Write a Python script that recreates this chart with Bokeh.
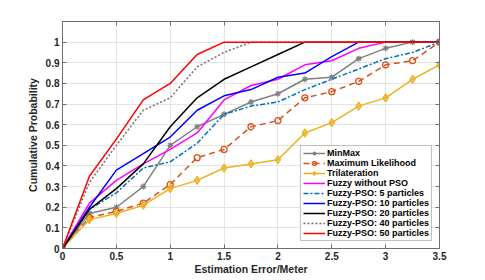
from bokeh.plotting import figure
from bokeh.models import (Range1d, FixedTicker, LinearAxis, Legend, LegendItem)
from bokeh.embed import file_html
from bokeh.resources import INLINE

# ---- data ----
err = [0, 0.25, 0.5, 0.75, 1.0, 1.25, 1.5, 1.75, 2.0, 2.25, 2.5, 2.75, 3.0, 3.25, 3.5]
minmax = [0, 0.17, 0.20, 0.30, 0.50, 0.59, 0.65, 0.71, 0.75, 0.82, 0.83, 0.92, 0.97, 1.0, 1.0]
max_likelihood = [0, 0.15, 0.18, 0.22, 0.31, 0.44, 0.48, 0.59, 0.62, 0.73, 0.76, 0.81, 0.89, 0.91, 1.0]
trilateration = [0, 0.14, 0.17, 0.21, 0.29, 0.33, 0.39, 0.41, 0.43, 0.56, 0.61, 0.69, 0.73, 0.82, 0.89]
fuzzy_no_pso = [0, 0.22, 0.33, 0.41, 0.48, 0.56, 0.72, 0.79, 0.82, 0.89, 0.91, 0.97, 1.0, 1.0, 1.0]
pso_5 = [0, 0.19, 0.27, 0.39, 0.42, 0.51, 0.65, 0.69, 0.71, 0.77, 0.82, 0.87, 0.92, 0.95, 1.0]
pso_10 = [0, 0.20, 0.38, 0.46, 0.54, 0.67, 0.74, 0.77, 0.83, 0.85, 0.93, 1.0, 1.0, 1.0, 1.0]
pso_20 = [0, 0.19, 0.29, 0.41, 0.59, 0.73, 0.82, 0.88, 0.94, 1.0, 1.0, 1.0, 1.0, 1.0, 1.0]
pso_40 = [0, 0.32, 0.50, 0.67, 0.73, 0.88, 0.95, 1.0, 1.0, 1.0, 1.0, 1.0, 1.0, 1.0, 1.0]
pso_50 = [0, 0.35, 0.53, 0.72, 0.80, 0.94, 1.0, 1.0, 1.0, 1.0, 1.0, 1.0, 1.0, 1.0, 1.0]

x_ticks = [0, 0.5, 1, 1.5, 2, 2.5, 3, 3.5]
x_tick_labels = ["0", "0.5", "1", "1.5", "2", "2.5", "3", "3.5"]
y_ticks = [0, 0.1, 0.2, 0.3, 0.4, 0.5, 0.6, 0.7, 0.8, 0.9, 1.0]
y_tick_labels = ["0", "0.1", "0.2", "0.3", "0.4", "0.5", "0.6", "0.7", "0.8", "0.9", "1"]

FONT = "Liberation Sans"
AX_COL = "#6f6f6f"
TXT_COL = "#262626"

p = figure(width=485, height=280, x_range=Range1d(0, 3.5), y_range=Range1d(0, 1.1),
           output_backend="svg", toolbar_location=None,
           min_border_left=62, min_border_right=46, min_border_top=21, min_border_bottom=32)
p.background_fill_color = "white"
p.outline_line_color = AX_COL

def style_axis(ax, ticks, labels, show_labels=True):
    ax.ticker = FixedTicker(ticks=ticks)
    ax.major_label_overrides = {t: l for t, l in zip(ticks, labels)}
    ax.axis_line_color = AX_COL
    ax.major_tick_line_color = AX_COL
    ax.major_tick_in = 4
    ax.major_tick_out = 0
    ax.minor_tick_line_color = None
    ax.major_label_text_font = FONT
    ax.major_label_text_font_style = "bold"
    ax.major_label_text_font_size = "10px" if show_labels else "0px"
    ax.major_label_text_color = TXT_COL
    ax.major_label_standoff = 3 if show_labels else 0

style_axis(p.xaxis[0], x_ticks, x_tick_labels)
style_axis(p.yaxis[0], y_ticks, y_tick_labels)
for ax in (p.xaxis[0], p.yaxis[0]):
    ax.axis_label_text_font = FONT
    ax.axis_label_text_font_style = "bold"
    ax.axis_label_text_font_size = "10.5px"
    ax.axis_label_text_color = TXT_COL
    ax.axis_label_standoff = 0
p.xaxis[0].axis_label = "Estimation Error/Meter"
p.yaxis[0].axis_label = "Cumulative Probability"
p.yaxis[0].axis_label_standoff = 4

top_ax = LinearAxis()
style_axis(top_ax, x_ticks, ["" for _ in x_ticks], show_labels=False)
p.add_layout(top_ax, "above")
right_ax = LinearAxis()
style_axis(right_ax, y_ticks, ["" for _ in y_ticks], show_labels=False)
p.add_layout(right_ax, "right")

for g in (p.xgrid[0], p.ygrid[0]):
    g.grid_line_color = "#e4e4e4"
p.xgrid[0].ticker = FixedTicker(ticks=x_ticks)
p.ygrid[0].ticker = FixedTicker(ticks=y_ticks)

items = []
lw = 1.5

r = p.line(err, minmax, line_color="#808080", line_width=lw)
m = p.scatter(err, minmax, marker="asterisk", size=6, line_color="#808080", line_width=1.2)
items.append(LegendItem(label="MinMax", renderers=[r, m]))

r = p.line(err, max_likelihood, line_color="#D95319", line_width=lw, line_dash="6 4")
m = p.scatter(err, max_likelihood, marker="circle", size=6, line_color="#D95319",
              fill_color=None, line_width=1.3)
items.append(LegendItem(label="Maximum Likelihood", renderers=[r, m]))

r = p.line(err, trilateration, line_color="#EDB120", line_width=lw)
m = p.scatter(err, trilateration, marker="diamond", size=8, line_color="#EDB120",
              fill_color="#EDB120", fill_alpha=0.6, line_width=1.2)
items.append(LegendItem(label="Trilateration", renderers=[r, m]))

r = p.line(err, fuzzy_no_pso, line_color="#FF00FF", line_width=lw)
items.append(LegendItem(label="Fuzzy without PSO", renderers=[r]))

r = p.line(err, pso_5, line_color="#0072BD", line_width=lw, line_dash="5 2 2 2")
items.append(LegendItem(label="Fuzzy-PSO: 5 particles", renderers=[r]))

r = p.line(err, pso_10, line_color="#0000FF", line_width=lw)
items.append(LegendItem(label="Fuzzy-PSO: 10 particles", renderers=[r]))

r = p.line(err, pso_20, line_color="#000000", line_width=lw)
items.append(LegendItem(label="Fuzzy-PSO: 20 particles", renderers=[r]))

r = p.line(err, pso_40, line_color="#707070", line_width=lw, line_dash="2 2")
items.append(LegendItem(label="Fuzzy-PSO: 40 particles", renderers=[r]))

r = p.line(err, pso_50, line_color="#FF0000", line_width=lw)
items.append(LegendItem(label="Fuzzy-PSO: 50 particles", renderers=[r]))

legend = Legend(items=items, location="bottom_right")
legend.label_text_font = FONT
legend.label_text_font_style = "bold"
legend.label_text_font_size = "9px"
legend.label_text_color = "#000000"
legend.label_height = 10
legend.glyph_height = 10
legend.glyph_width = 22
legend.label_standoff = 2
legend.spacing = 0
legend.padding = 2
legend.margin = 7
legend.border_line_color = "#808080"
legend.border_line_width = 1
legend.background_fill_color = "white"
legend.background_fill_alpha = 1
p.add_layout(legend)

open("out.html", "w").write(file_html(p, INLINE))
